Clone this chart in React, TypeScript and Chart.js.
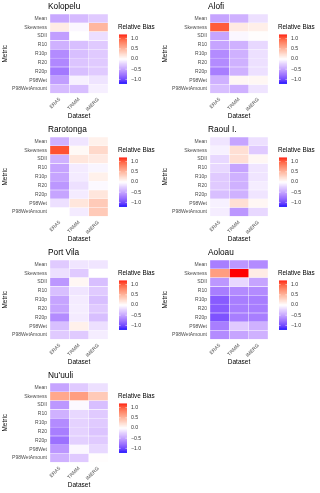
import React, { useEffect, useRef } from "react";
import { Chart, registerables } from "chart.js";
Chart.register(...registerables);

const FONT = "'Liberation Sans', Arial, sans-serif";

const metrics = ["Mean", "Skewness", "SDII", "R10", "R10p", "R20", "R20p", "P98Wet", "P98WetAmount"];
const datasetNames = ["ERA5", "TRMM", "IMERG"];
const legendTicks = [1.0, 0.5, 0.0, -0.5, -1.0];
const biasLimit = 1.2;

// values per station: [ERA5[], TRMM[], IMERG[]] in metric order
const kolopelu = [
  [-0.45, 0.12, -0.5, -0.4, -0.6, -0.62, -0.7, -0.5, -0.35],
  [-0.35, -0.04, 0.0, -0.33, -0.33, -0.3, -0.33, -0.07, -0.33],
  [-0.27, 0.45, -0.17, -0.27, -0.27, -0.27, -0.27, -0.14, -0.08],
];
const alofi = [
  [-0.47, 0.95, -0.47, -0.47, -0.6, -0.6, -0.67, -0.4, -0.33],
  [-0.4, 0.13, -0.04, -0.4, -0.4, -0.4, -0.4, 0.05, -0.4],
  [-0.16, 0.1, 0.01, -0.2, -0.16, -0.16, -0.16, 0.05, -0.14],
];
const rarotonga = [
  [-0.4, 1.0, -0.4, -0.47, -0.47, -0.54, -0.47, -0.16, 0.0],
  [-0.13, 0.04, 0.16, -0.1, -0.1, -0.16, -0.1, 0.16, -0.1],
  [0.09, 0.24, 0.13, -0.05, 0.09, -0.03, 0.16, 0.33, 0.33],
];
const raoul = [
  [-0.13, -0.07, -0.2, -0.2, -0.27, -0.27, -0.33, -0.07, -0.09],
  [-0.47, 0.2, 0.2, -0.47, -0.4, -0.4, -0.4, 0.2, -0.54],
  [-0.16, -0.27, 0.05, -0.13, -0.13, -0.09, -0.13, 0.05, -0.2],
];
const portVila = [
  [-0.27, -0.16, -0.54, -0.33, -0.47, -0.47, -0.6, -0.33, -0.27],
  [-0.13, -0.27, 0.05, -0.13, -0.1, -0.09, -0.1, 0.09, -0.27],
  [-0.13, 0.0, -0.33, -0.27, -0.33, -0.27, -0.33, -0.16, -0.09],
];
const aoloau = [
  [-0.67, 0.6, -0.54, -0.67, -0.85, -0.85, -0.9, -0.67, -0.6],
  [-0.54, 1.2, -0.2, -0.6, -0.67, -0.67, -0.67, -0.27, -0.47],
  [-0.6, 0.12, -0.47, -0.6, -0.67, -0.67, -0.67, -0.4, -0.4],
];
const nuuuli = [
  [-0.47, 0.54, -0.54, -0.4, -0.6, -0.67, -0.74, -0.54, -0.4],
  [-0.27, 0.6, -0.03, -0.2, -0.23, -0.23, -0.24, -0.04, -0.27],
  [-0.16, 0.33, -0.33, -0.27, -0.27, -0.3, -0.27, -0.2, 0.01],
];

const stationNames = ["Kolopelu", "Alofi", "Rarotonga", "Raoul I.", "Port Vila", "Aoloau", "Nu'uuli"];
const stationValues = [kolopelu, alofi, rarotonga, raoul, portVila, aoloau, nuuuli];

// ---- colour: Lab interpolation blue - white - red (ggplot scale_fill_gradient2)
function srgbToLin(c: number) {
  c /= 255;
  return c <= 0.04045 ? c / 12.92 : Math.pow((c + 0.055) / 1.055, 2.4);
}
function linToSrgb(c: number) {
  const v = c <= 0.0031308 ? 12.92 * c : 1.055 * Math.pow(c, 1 / 2.4) - 0.055;
  return Math.round(Math.max(0, Math.min(1, v)) * 255);
}
const Xn = 0.95047, Yn = 1.0, Zn = 1.08883;
function rgbToLab(r: number, g: number, b: number) {
  const R = srgbToLin(r), G = srgbToLin(g), B = srgbToLin(b);
  const X = 0.4124 * R + 0.3576 * G + 0.1805 * B;
  const Y = 0.2126 * R + 0.7152 * G + 0.0722 * B;
  const Z = 0.0193 * R + 0.1192 * G + 0.9505 * B;
  const f = (t: number) => (t > 0.008856 ? Math.cbrt(t) : 7.787 * t + 16 / 116);
  const fx = f(X / Xn), fy = f(Y / Yn), fz = f(Z / Zn);
  return [116 * fy - 16, 500 * (fx - fy), 200 * (fy - fz)];
}
function labToRgb(L: number, a: number, b: number) {
  const fy = (L + 16) / 116, fx = fy + a / 500, fz = fy - b / 200;
  const inv = (t: number) => (t * t * t > 0.008856 ? t * t * t : (t - 16 / 116) / 7.787);
  const X = inv(fx) * Xn, Y = inv(fy) * Yn, Z = inv(fz) * Zn;
  const R = 3.2406 * X - 1.5372 * Y - 0.4986 * Z;
  const G = -0.9689 * X + 1.8758 * Y + 0.0415 * Z;
  const B = 0.0557 * X - 0.204 * Y + 1.057 * Z;
  return [linToSrgb(R), linToSrgb(G), linToSrgb(B)];
}
const LAB_LOW = rgbToLab(0, 0, 255);
const LAB_MID = rgbToLab(255, 255, 255);
const LAB_HIGH = rgbToLab(255, 0, 0);
function biasColor(v: number) {
  let t = v / biasLimit;
  t = Math.max(-1, Math.min(1, t));
  const end = t < 0 ? LAB_LOW : LAB_HIGH;
  const k = Math.abs(t);
  const lab = LAB_MID.map((m, i) => m + (end[i] - m) * k);
  const [r, g, b] = labToRgb(lab[0], lab[1], lab[2]);
  return `rgb(${r},${g},${b})`;
}

const PANEL_W = 160;
const PANEL_H = 123;

function overlayPlugin(title: string) {
  return {
    id: "overlay",
    afterDraw(chart: any) {
      const ctx = chart.ctx as CanvasRenderingContext2D;
      const area = chart.chartArea;
      ctx.save();
      // title
      ctx.fillStyle = "#000";
      ctx.font = `8.3px ${FONT}`;
      ctx.textAlign = "left";
      ctx.textBaseline = "middle";
      ctx.fillText(title, area.left - 2, 6.5);
      // legend
      const cbX = area.right + 11;
      const cbW = 8;
      const cbTop = 34.5;
      const cbH = 49;
      const yOf = (v: number) => cbTop + ((biasLimit - v) / (2 * biasLimit)) * cbH;
      ctx.font = `6.3px ${FONT}`;
      ctx.fillStyle = "#000";
      ctx.fillText("Relative Bias", cbX - 1, 27.5);
      const steps = 100;
      for (let i = 0; i < steps; i++) {
        const v0 = biasLimit - (i / steps) * 2 * biasLimit;
        const v1 = biasLimit - ((i + 1) / steps) * 2 * biasLimit;
        ctx.fillStyle = biasColor((v0 + v1) / 2);
        const y0 = yOf(v0);
        const y1 = yOf(v1);
        ctx.fillRect(cbX, y0, cbW, y1 - y0 + 0.3);
      }
      ctx.strokeStyle = "#fff";
      ctx.lineWidth = 0.5;
      ctx.font = `5.2px ${FONT}`;
      ctx.fillStyle = "#333";
      legendTicks.forEach((v) => {
        const y = yOf(v);
        ctx.beginPath();
        ctx.moveTo(cbX, y);
        ctx.lineTo(cbX + 1.6, y);
        ctx.moveTo(cbX + cbW - 1.6, y);
        ctx.lineTo(cbX + cbW, y);
        ctx.stroke();
        ctx.fillText(v.toFixed(1).replace("-", "\u2212"), cbX + cbW + 4, y);
      });
      ctx.restore();
    },
  };
}

function Panel({ title, values, left, top }: { title: string; values: number[][]; left: number; top: number }) {
  const ref = useRef<HTMLCanvasElement>(null);
  useEffect(() => {
    const chart = new Chart(ref.current as HTMLCanvasElement, {
      type: "bar",
      data: {
        labels: metrics,
        datasets: datasetNames.map((name, d) => ({
          label: name,
          data: metrics.map(() => 1),
          backgroundColor: values[d].map(biasColor),
          borderColor: "rgba(255,255,255,0.45)",
          borderWidth: 0.5,
          borderSkipped: false,
          barPercentage: 1,
          categoryPercentage: 1,
        })),
      },
      options: {
        indexAxis: "y",
        responsive: false,
        animation: false,
        devicePixelRatio: 1,
        layout: { padding: { top: 14, right: 52, left: 0, bottom: 0 } },
        plugins: { legend: { display: false }, tooltip: { enabled: false }, title: { display: false } },
        scales: {
          x: {
            type: "linear",
            stacked: true,
            min: 0,
            max: 3,
            afterBuildTicks: (s: any) => {
              s.ticks = datasetNames.map((_, i) => ({ value: i + 0.5 }));
            },
            afterFit: (s: any) => {
              s.height = 29.5;
            },
            grid: { display: false, drawTicks: false },
            border: { display: false },
            ticks: {
              autoSkip: false,
              minRotation: 45,
              maxRotation: 45,
              padding: 3,
              color: "#4d4d4d",
              font: { size: 5, family: FONT },
              callback: (_v: any, i: number) => datasetNames[i],
            },
            title: {
              display: true,
              text: "Dataset",
              color: "#000",
              font: { size: 6.5, family: FONT },
              padding: { top: 0, bottom: 3 },
            },
          },
          y: {
            stacked: true,
            afterFit: (s: any) => {
              s.width = 50;
            },
            grid: { display: false, drawTicks: false },
            border: { display: false },
            ticks: { autoSkip: false, padding: 3, color: "#4d4d4d", font: { size: 5, family: FONT } },
            title: {
              display: true,
              text: "Metric",
              color: "#000",
              font: { size: 6.5, family: FONT },
              padding: { top: 1.5, bottom: 0 },
            },
          },
        },
      } as any,
      plugins: [overlayPlugin(title)],
    });
    return () => chart.destroy();
  }, [title, values]);
  return (
    <canvas
      ref={ref}
      width={PANEL_W}
      height={PANEL_H}
      style={{ position: "absolute", left, top, width: PANEL_W, height: PANEL_H }}
    />
  );
}

export default function App() {
  return (
    <div style={{ position: "absolute", left: 0, top: 0, width: 320, height: 493, background: "#fff" }}>
      {stationNames.map((name, i) => (
        <Panel
          key={name}
          title={name}
          values={stationValues[i]}
          left={(i % 2) * PANEL_W}
          top={Math.floor(i / 2) * PANEL_H}
        />
      ))}
    </div>
  );
}
